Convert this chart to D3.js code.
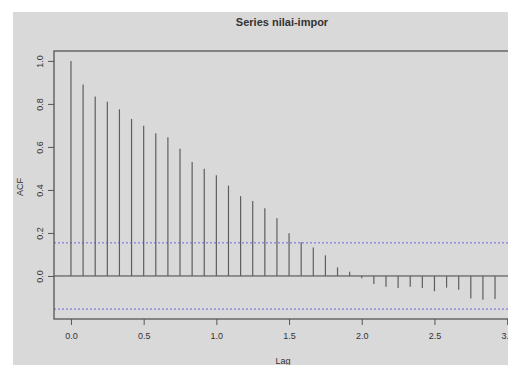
<!DOCTYPE html>
<html>
<head>
<meta charset="utf-8">
<script src="https://cdn.jsdelivr.net/npm/d3@7"></script>
<style>
  html, body { margin: 0; padding: 0; background: #fff; }
  text { font-family: "Liberation Sans", Arial, sans-serif; fill: #333; }
</style>
</head>
<body>
<div id="chart"></div>
<script>
// acf of the series, lag k/12 (monthly)
const lags = d3.range(36).map(k => k / 12);
const acfValues = [
  1.000, 0.890, 0.834, 0.810, 0.775, 0.730, 0.698, 0.664, 0.645, 0.591,
  0.530, 0.498, 0.468, 0.420, 0.371, 0.349, 0.315, 0.268, 0.199, 0.157,
  0.132, 0.096, 0.040, 0.020, -0.011, -0.037, -0.050, -0.056, -0.050, -0.056,
  -0.071, -0.054, -0.064, -0.105, -0.110, -0.107
];
const ciLimit = 0.154;
const xTicks = [0, 0.5, 1, 1.5, 2, 2.5, 3];
const yTicks = [0, 0.2, 0.4, 0.6, 0.8, 1.0];

const width = 508, height = 365;

const svg = d3.select('#chart')
  .append('svg')
  .attr('width', width)
  .attr('height', height);

// grey device background with a thin white border
svg.append('rect')
  .attr('x', 13).attr('y', 12)
  .attr('width', width - 13).attr('height', height - 12)
  .attr('fill', '#d9d9d9');

const x = d3.scaleLinear()
  .domain([-0.1167, 3.0333])
  .range([54, 512]);

const y = d3.scaleLinear()
  .domain([-0.2, 1.046])
  .range([319, 51]);

// confidence bounds
[ciLimit, -ciLimit].forEach(v => {
  svg.append('line')
    .attr('x1', x.range()[0]).attr('x2', x.range()[1])
    .attr('y1', y(v)).attr('y2', y(v))
    .attr('stroke', '#6a6ae0')
    .attr('stroke-width', 1)
    .attr('stroke-dasharray', '2,2');
});

// zero line
svg.append('line')
  .attr('x1', x.range()[0]).attr('x2', x.range()[1])
  .attr('y1', y(0)).attr('y2', y(0))
  .attr('stroke', '#444')
  .attr('stroke-width', 1);

// spikes
svg.selectAll('.spike')
  .data(acfValues)
  .enter().append('line')
  .attr('class', 'spike')
  .attr('x1', (d, i) => x(lags[i]))
  .attr('x2', (d, i) => x(lags[i]))
  .attr('y1', y(0))
  .attr('y2', d => y(d))
  .attr('stroke', '#5e5e5e')
  .attr('stroke-width', 1.2);

// frame
svg.append('rect')
  .attr('x', x.range()[0]).attr('y', y.range()[1])
  .attr('width', x.range()[1] - x.range()[0])
  .attr('height', y.range()[0] - y.range()[1])
  .attr('fill', 'none')
  .attr('stroke', '#555')
  .attr('stroke-width', 1.3);

const xAxis = svg.append('g')
  .attr('transform', `translate(0,${y.range()[0]})`)
  .call(d3.axisBottom(x).tickValues(xTicks).tickSize(6).tickPadding(8)
    .tickFormat(d3.format('.1f')));

const yAxis = svg.append('g')
  .attr('transform', `translate(${x.range()[0]},0)`)
  .call(d3.axisLeft(y).tickValues(yTicks).tickSize(6).tickFormat(d3.format('.1f')));

[xAxis, yAxis].forEach(g => {
  g.select('.domain').remove();
  g.selectAll('.tick line').attr('stroke', '#555');
  g.selectAll('.tick text')
    .attr('font-size', 9)
    .attr('fill', '#333')
    .style('font-family', '"Liberation Sans", Arial, sans-serif');
});

yAxis.selectAll('.tick text')
  .attr('x', null).attr('dy', null)
  .attr('text-anchor', 'middle')
  .attr('transform', 'translate(-14,0) rotate(-90)')
  .attr('dy', '0.35em');

// titles
svg.append('text')
  .attr('x', 282).attr('y', 26)
  .attr('text-anchor', 'middle')
  .attr('font-size', 11)
  .attr('font-weight', 'bold')
  .text('Series nilai-impor');

svg.append('text')
  .attr('x', 283).attr('y', 364)
  .attr('text-anchor', 'middle')
  .attr('font-size', 9)
  .text('Lag');

svg.append('text')
  .attr('transform', 'translate(23,187) rotate(-90)')
  .attr('text-anchor', 'middle')
  .attr('font-size', 9)
  .text('ACF');
</script>
</body>
</html>
